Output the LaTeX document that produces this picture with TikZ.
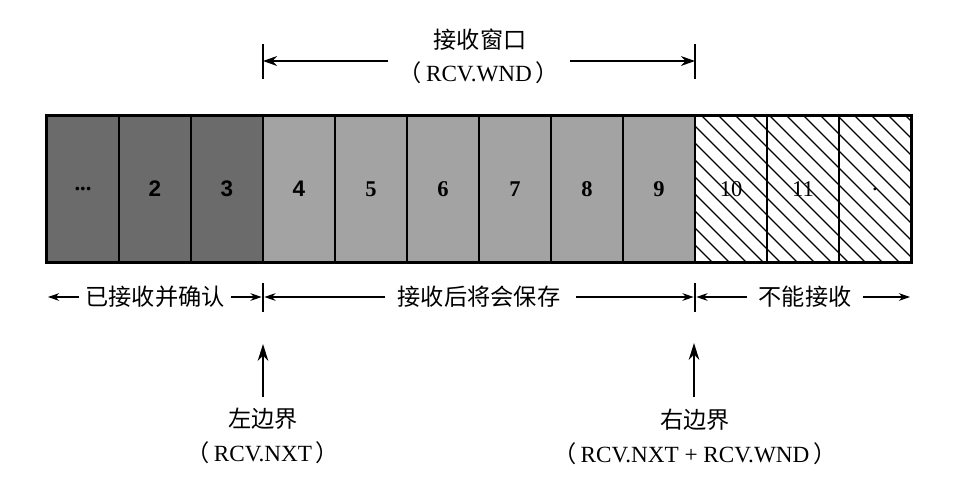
\documentclass[tikz,border=0pt]{standalone}
\usepackage{fontspec}
\setmainfont{Liberation Serif}
\setsansfont{Liberation Sans}
\newfontfamily\cjk{Noto Sans CJK SC}
\usetikzlibrary{positioning,arrows.meta}

\begin{document}
\begin{tikzpicture}[x=0.025cm, y=-0.025cm, >={Stealth[length=8pt,width=5.5pt]},
  cell/.style={draw, line width=1.5pt, minimum width=1.8cm, minimum height=3.65cm, inner sep=0pt, font=\bfseries\fontsize{16}{19}\selectfont},
  acked/.style={cell, fill=black!58},
  saved/.style={cell, fill=black!36},
  refused/.style={cell, line width=0.9pt, font=\fontsize{16}{19}\selectfont},
  txt/.style={font=\fontsize{16.5}{20}\selectfont, inner sep=1pt},
  bar/.style={line width=1.8pt},
  span/.style={->, line width=0.8pt}]
\useasboundingbox (0,0) rectangle (968,488);

% hatching of the refused part
\begin{scope}
\clip (695,116) rectangle (910,262);
\foreach \x in {549,566,...,910}
  \draw[line width=0.9pt] (\x,116) -- ++(146,146);
\end{scope}

% sequence cells
\foreach \i/\lbl/\sty in {1/{...}/acked, 2/{\sffamily 2}/acked, 3/{\sffamily 3}/acked,
    4/{\sffamily 4}/saved, 5/5/saved, 6/6/saved, 7/7/saved, 8/8/saved, 9/9/saved,
    10/10/refused, 11/11/refused, 12/./refused}
  \node[\sty] (c\i) at ({11+72*\i},189) {\lbl};
\draw[line width=1.6pt] (c1.north west) rectangle (c12.south east);

% receive window
\node[txt] (wnd) at (480,40) {\cjk 接收窗口};
\node[txt] (wndsym) at (479,73) {\cjk （\,\rmfamily RCV.WND\,\cjk ）};
\coordinate (wl) at (263,61);
\coordinate (wr) at (695,61);
\draw[bar] (263,44) -- (263,79);
\draw[bar] (695,44) -- (695,79);
\draw[span, line width=1.3pt, >={Stealth[length=10pt,width=7pt]}] (388,61) -- (wl);
\draw[span, line width=1.3pt, >={Stealth[length=10pt,width=7pt]}] (570,61) -- (wr);

% regions
\node[txt] (done) at (155,297) {\cjk 已接收并确认};
\node[txt] (keep) at (479,297) {\cjk 接收后将会保存};
\node[txt] (deny) at (805,297) {\cjk 不能接收};
\coordinate (ml) at (263,297);
\coordinate (mr) at (695,297);
\coordinate (mfar) at (910,297);
\coordinate (mnear) at (48,297);
\draw[line width=0.9pt] (263,283) -- (263,312);
\draw[line width=0.9pt] (695,283) -- (695,312);
\draw[span] ([xshift=-3pt]done.west) -- (mnear);
\draw[span] ([xshift=3pt]done.east) -- ([xshift=-1pt]ml);
\draw[span] ([xshift=-8pt]keep.west) -- ([xshift=1pt]ml);
\draw[span] ([xshift=10pt]keep.east) -- ([xshift=-1pt]mr);
\draw[span] ([xshift=-7pt]deny.west) -- ([xshift=1pt]mr);
\draw[span] ([xshift=7pt]deny.east) -- (mfar);

% edges of the window
\node[txt] (left) at (263,419) {\cjk 左边界};
\node[txt] (leftsym) at (263,453) {\cjk （\,\rmfamily RCV.NXT\,\cjk ）};
\node[txt] (right) at (695,420) {\cjk 右边界};
\node[txt] (rightsym) at (695,454) {\cjk （\,\rmfamily RCV.NXT + RCV.WND\,\cjk ）};
\draw[->, line width=1.8pt, >={Stealth[length=12pt,width=7.5pt]}] (263,397) -- (263,344);
\draw[->, line width=1.8pt, >={Stealth[length=12pt,width=7.5pt]}] (694,397) -- (694,343);
\end{tikzpicture}
\end{document}
